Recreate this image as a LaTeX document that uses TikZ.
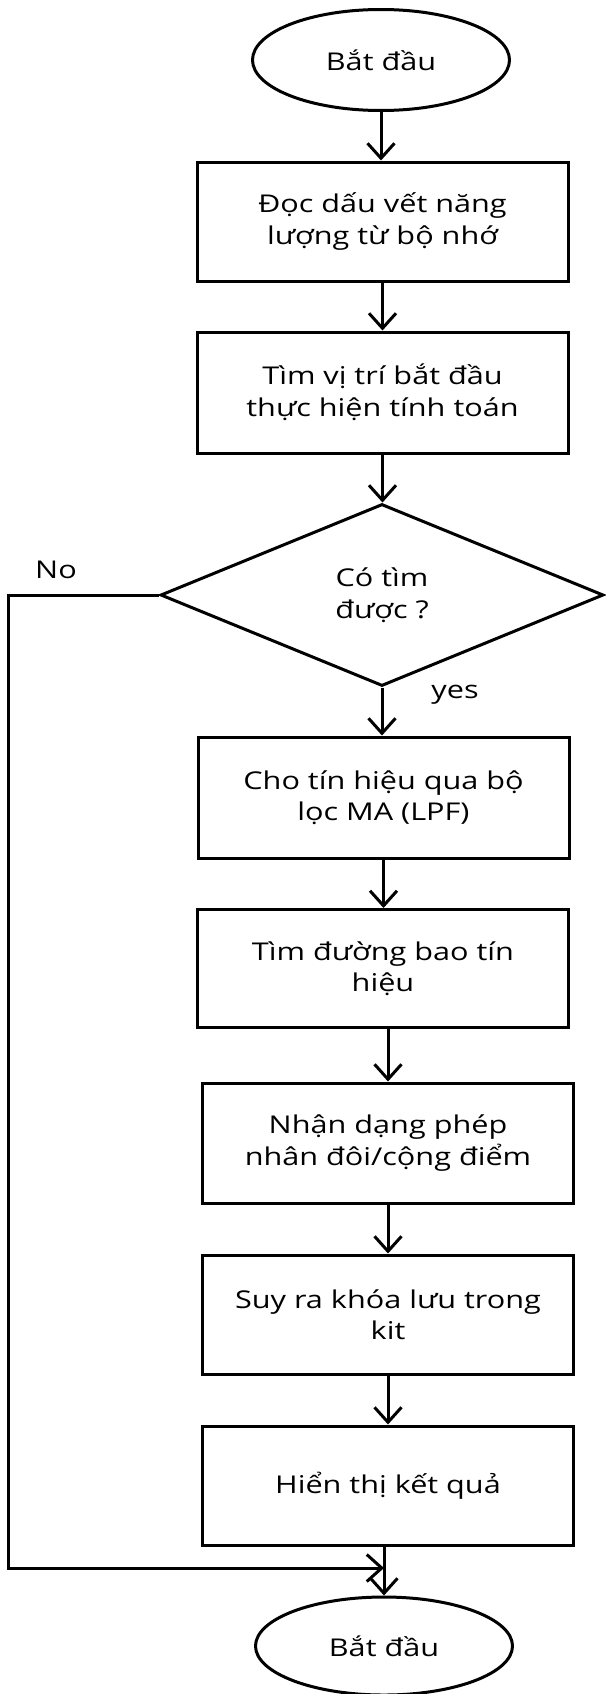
\documentclass[tikz,border=0pt]{standalone}
\usepackage{fontspec}
\setmainfont{Open Sans}[FakeStretch=1.25]
\usetikzlibrary{shapes.geometric,arrows.meta}
\begin{document}
\begin{tikzpicture}[x=1pt,y=-1pt,
  every node/.style={font=\fontsize{24.5}{31.5}\selectfont},
  stepbox/.style={draw,line width=3pt,rectangle,minimum width=371pt,inner sep=0pt,align=center},
  term/.style={draw,line width=3pt,ellipse,inner sep=0pt},
  decis/.style={draw,line width=3pt,diamond,inner sep=0pt,minimum width=443pt,minimum height=182pt,align=center},
  arr/.style={line width=3pt,-{Straight Barb[length=15pt,width=27pt,line width=3pt]}},
  lbl/.style={inner sep=0pt}]
\useasboundingbox (0,0) rectangle (605,1694);
\node[term,minimum width=257pt,minimum height=101pt] (start) at (381,60) {Bắt đầu};
\node[stepbox,minimum height=119pt] (b1) at (382.5,221.5) {Đọc dấu vết năng\\lượng từ bộ nhớ};
\node[stepbox,minimum height=121pt] (b2) at (382.5,392.5) {Tìm vị trí bắt đầu\\thực hiện tính toán};
\node[decis] (dec) at (382,595) {Có tìm\\được ?};
\node[stepbox,minimum height=121pt] (b3) at (383.5,797.5) {Cho tín hiệu qua bộ\\lọc MA (LPF)};
\node[stepbox,minimum height=118pt] (b4) at (383,968.5) {Tìm đường bao tín\\hiệu};
\node[stepbox,minimum height=120pt] (b5) at (388,1143) {Nhận dạng phép\\nhân đôi/cộng điểm};
\node[stepbox,minimum height=119pt] (b6) at (388,1314.5) {Suy ra khóa lưu trong\\kit};
\node[stepbox,minimum height=119pt] (b7) at (388,1485.5) {Hiển thị kết quả};
\node[term,minimum width=257pt,minimum height=98pt] (stop) at (384,1646) {Bắt đầu};
\node[lbl] (no) at (56,570) {No};
\node[lbl] (yes) at (455,695) {yes};
\draw[arr] (start.south) -- (start.south |- b1.north);
\draw[arr] (b1.south) -- (b1.south |- b2.north);
\draw[arr] (b2.south) -- (b2.south |- dec.north);
\draw[arr] (dec.south) -- (dec.south |- b3.north);
\draw[arr] (b3.south) -- (b3.south |- b4.north);
\draw[arr] (b4.south -| b5.north) -- (b5.north);
\draw[arr] (b5.south) -- (b5.south |- b6.north);
\draw[arr] (b6.south) -- (b6.south |- b7.north);
\draw[arr] (b7.south -| stop.north) -- (stop.north);
\coordinate (join) at (stop.north |- 0,1568);
\coordinate (lft) at (8,1568);
\draw[arr,line join=miter] (dec.west) -| (lft) -- (join);
\end{tikzpicture}
\end{document}
